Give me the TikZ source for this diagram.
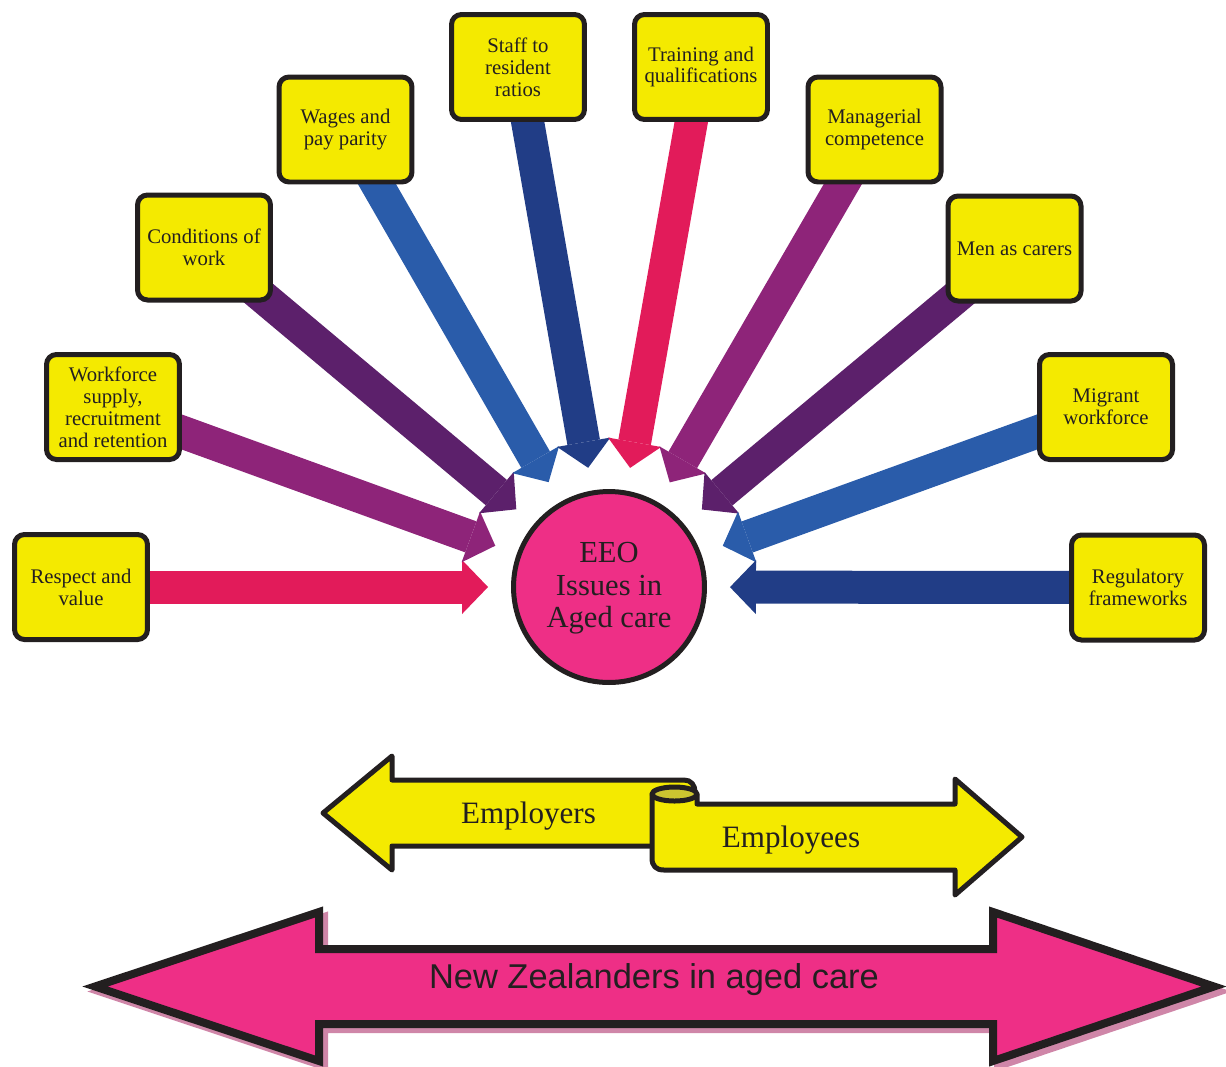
\documentclass[tikz,border=0pt]{standalone}
\usepackage{fontspec}
\setmainfont{Liberation Serif}
\newfontfamily\nzsans{Liberation Sans}
\usetikzlibrary{arrows.meta,backgrounds}
\definecolor{Ink}{HTML}{231F20}
\definecolor{Sign}{HTML}{F4EA00}
\definecolor{Hub}{HTML}{EE2F86}
\definecolor{Rose}{HTML}{E21B5A}
\definecolor{Plum}{HTML}{8E2479}
\definecolor{Grape}{HTML}{5C206B}
\definecolor{Sky}{HTML}{2A5CAA}
\definecolor{Navy}{HTML}{213D86}
\definecolor{Curl}{HTML}{CCC530}
\definecolor{Shade}{HTML}{CF86A8}
\tikzset{issue/.style={draw=Ink,fill=Sign,line width=1mm,rounded corners=2mm,minimum width=2.66cm,minimum height=2.1cm,align=center,text=Ink,font=\fontsize{11.8}{12.5}\selectfont},
feed/.style={-{Triangle[length=.52cm,width=1.08cm,line width=0pt]},line width=.66cm,shorten >=.46cm},
ribbon/.style={draw=Ink,fill=Sign,line width=1mm,line join=round}}

\begin{document}
\begin{tikzpicture}[x=.02cm,y=-.02cm]
\useasboundingbox (0,0) rectangle (1226,1066);
% issues round the hub
\node[issue] (respect) at (81,587) {Respect and\\value};
\node[issue] (supply) at (113,407) {Workforce\\supply,\\recruitment\\and retention};
\node[issue] (conditions) at (204,247.5) {Conditions of\\work};
\node[issue] (wages) at (345.5,129.5) {Wages and\\pay parity};
\node[issue] (ratios) at (518,67) {Staff to\\resident\\ratios};
\node[issue] (training) at (701,67) {Training and\\qualifications};
\node[issue] (managers) at (874.5,129.5) {Managerial\\competence};
\node[issue] (men) at (1014.5,248.5) {Men as carers};
\node[issue] (migrant) at (1106,407) {Migrant\\workforce};
\node[issue] (rules) at (1138,587.5) {Regulatory\\frameworks};
\node[circle,draw=Ink,fill=Hub,line width=1mm,minimum size=3.82cm,align=center,text=Ink,font=\fontsize{17.4}{18.7}\selectfont,text depth=.5ex] (hub) at (609,587) {EEO\\Issues in\\Aged care};
\begin{scope}[on background layer]
\foreach \src/\col in {respect/Rose,supply/Plum,conditions/Grape,wages/Sky,ratios/Navy,training/Rose,managers/Plum,men/Grape,migrant/Sky,rules/Navy}
  \draw[feed,draw=\col] (\src.center) -- (hub);
\end{scope}
% employers / employees ribbon
\draw[ribbon] (323,813) -- (392,756) -- (392,780) -- (684,780) .. controls (691,780) and (695,785) .. (695,792) -- (695,846) -- (392,846) -- (392,870) -- cycle;
\draw[ribbon] (652,794) -- (652,858) .. controls (652,866) and (656,870) .. (664,870) -- (955,870) -- (955,895) -- (1022,837) -- (955,779) -- (955,804) -- (697,804) -- (697,794) -- cycle;
\draw[ribbon,fill=Curl] (674.5,794) ellipse [x radius=.45cm,y radius=.14cm];
\node[font=\fontsize{17.7}{20}\selectfont,text=Ink,anchor=base] (employers) at (528.5,823) {Employers};
\node[font=\fontsize{17.7}{20}\selectfont,text=Ink,anchor=base] (employees) at (791,847) {Employees};
% new zealanders
\foreach \off/\ink/\paint in {5/Shade/Shade,0/Ink/Hub}
  \draw[draw=\ink,fill=\paint,line width=1.6mm,shift={(\off,\off)}] (95,986.5) -- (319,912) -- (319,949) -- (993,949) -- (993,912) -- (1214,986.5) -- (993,1061) -- (993,1024) -- (319,1024) -- (319,1061) -- cycle;
\node[font=\nzsans\fontsize{19.6}{22}\selectfont,text=Ink,anchor=base] (nz) at (654,988) {New Zealanders in aged care};
\end{tikzpicture}
\end{document}
